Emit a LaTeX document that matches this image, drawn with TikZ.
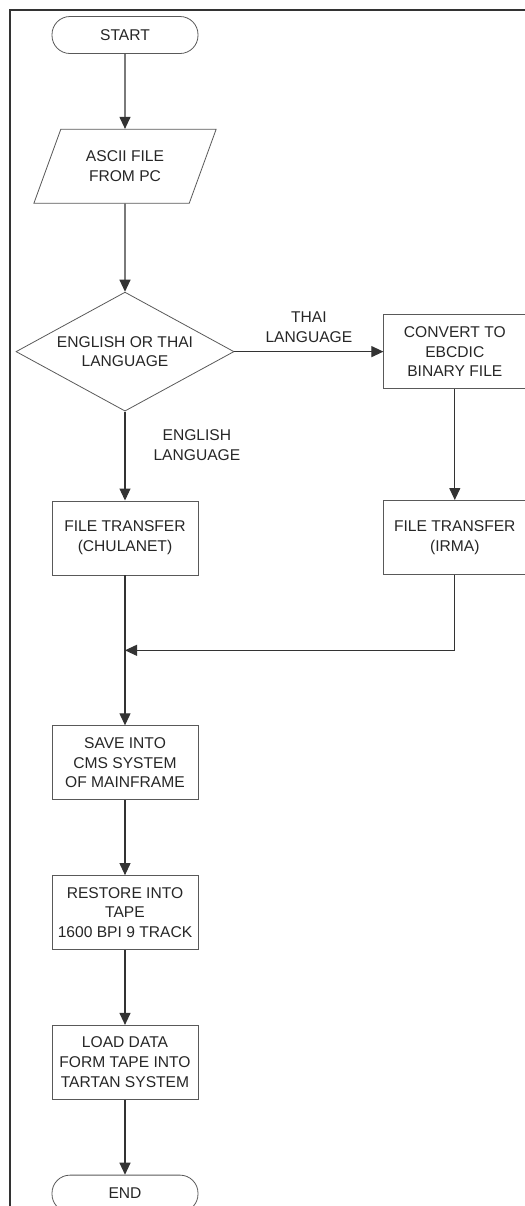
\documentclass[tikz,border=0pt]{standalone}
\usepackage{fontspec}
\setmainfont{Liberation Sans}
\usetikzlibrary{positioning}
\usetikzlibrary{shapes.geometric}
\usetikzlibrary{arrows.meta}

\begin{document}
\begin{tikzpicture}[
    node distance=37.5pt, % vertical gap between the steps
    every node/.style={
        align=center, % centred text in every node
        text=black!85,
        font=\fontsize{7.8}{9.85}\selectfont % small sans-serif text
    },
    procbox/.style={draw=black!65, line width=0.4pt, minimum width=73pt, minimum height=37pt, inner sep=0pt},
    terminal/.style={procbox, rounded corners=9pt, minimum height=18.5pt},
    inout/.style={draw=black!65, line width=0.4pt, trapezium, trapezium left angle=62,
        trapezium right angle=118, trapezium stretches=true,
        minimum width=91.5pt, minimum height=37pt, inner sep=0pt},
    decision/.style={draw=black!65, line width=0.4pt, diamond, aspect=1.83,
        minimum width=109pt, minimum height=59.5pt, inner sep=0pt},
    flow/.style={draw=black!80, line width=0.55pt, -{Triangle[length=6pt,width=5.5pt]}},
    tag/.style={inner sep=0pt}
]
\useasboundingbox (0,0) rectangle (262.5pt,-603pt);

% outer frame
\draw[black!80, line width=0.9pt] (5pt,-620pt) -- (5pt,-5pt) -- (270pt,-5pt);

% main column
\node[terminal] (start) at (62.5pt,-17.5pt) {START};
\node[inout, below=of start] (ascii) {ASCII FILE\\FROM PC};
\node[decision, below=44pt of ascii] (lang) {ENGLISH OR THAI\\LANGUAGE};
\node[procbox, below=44.5pt of lang] (chula) {FILE TRANSFER\\(CHULANET)};
\coordinate[below=of chula] (join);
\node[procbox, below=75pt of chula] (save) {SAVE INTO\\CMS SYSTEM\\OF MAINFRAME};
\node[procbox, below=of save] (restore) {RESTORE INTO\\TAPE\\1600 BPI 9 TRACK};
\node[procbox, below=of restore] (load) {LOAD DATA\\FORM TAPE INTO\\TARTAN SYSTEM};
\node[terminal, below=of load] (end) {END};

% thai branch
\node[procbox, minimum width=71pt, right=74.5pt of lang] (convert) {CONVERT TO\\EBCDIC\\BINARY FILE};
\node[procbox, minimum width=71pt, below=55.5pt of convert] (irma) {FILE TRANSFER\\(IRMA)};

% connectors
\draw[flow] (start) -- (ascii);
\draw[flow] (ascii) -- (lang);
\draw[flow] (lang) -- node[tag, pos=0.38, anchor=west, xshift=14pt] {ENGLISH\\LANGUAGE} (chula);
\draw[flow] (lang) -- node[above, pos=0.5, yshift=1pt] {THAI\\LANGUAGE} (convert);
\draw[flow] (convert) -- (irma);
\draw[flow] (irma) |- (join);
\draw[flow] (chula) -- (save);
\draw[flow] (save) -- (restore);
\draw[flow] (restore) -- (load);
\draw[flow] (load) -- (end);
\end{tikzpicture}
\end{document}
